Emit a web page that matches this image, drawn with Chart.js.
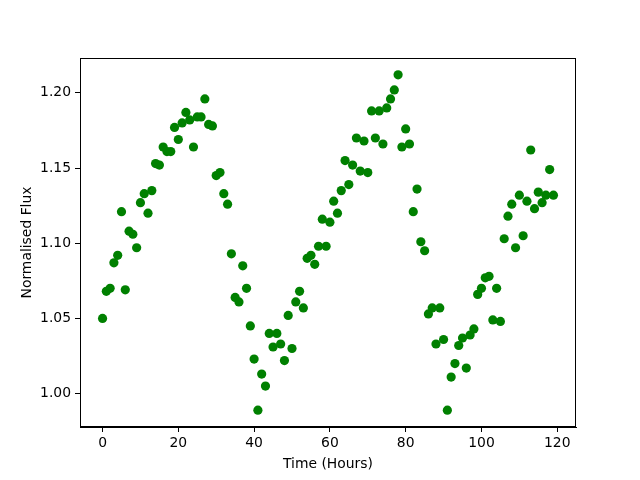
<!DOCTYPE html>
<html>
<head>
<meta charset="utf-8">
<script src="https://cdn.jsdelivr.net/npm/chart.js@4/dist/chart.umd.min.js"></script>
<style>
  body { margin: 0; background: #fff; }
  #wrap { width: 640px; height: 480px; }
</style>
</head>
<body>
<div id="wrap"><canvas id="graficoFluxo" width="640" height="480"></canvas></div>
<script>
// tempo em horas (0..119)
var horas = [];
for (var i = 0; i < 120; i++) horas.push(i);

var fluxo = [
  1.050, 1.068, 1.070, 1.087, 1.092, 1.121, 1.069, 1.108, 1.106, 1.097,
  1.127, 1.133, 1.120, 1.135, 1.153, 1.152, 1.164, 1.161, 1.161, 1.177,
  1.169, 1.180, 1.187, 1.182, 1.164, 1.184, 1.184, 1.196, 1.179, 1.178,
  1.145, 1.147, 1.133, 1.126, 1.093, 1.064, 1.061, 1.085, 1.070, 1.045,
  1.023, 0.989, 1.013, 1.005, 1.040, 1.031, 1.040, 1.033, 1.022, 1.052,
  1.030, 1.061, 1.068, 1.057, 1.090, 1.092, 1.086, 1.098, 1.116, 1.098,
  1.114, 1.128, 1.120, 1.135, 1.155, 1.139, 1.152, 1.170, 1.148, 1.168,
  1.147, 1.188, 1.170, 1.188, 1.166, 1.190, 1.196, 1.202, 1.212, 1.164,
  1.176, 1.166, 1.121, 1.136, 1.101, 1.095, 1.053, 1.057, 1.033, 1.057,
  1.036, 0.989, 1.011, 1.020, 1.032, 1.037, 1.017, 1.039, 1.043, 1.066,
  1.070, 1.077, 1.078, 1.049, 1.070, 1.048, 1.103, 1.118, 1.126, 1.097,
  1.132, 1.105, 1.128, 1.162, 1.123, 1.134, 1.127, 1.132, 1.149, 1.132
];

var ticksX = [0, 20, 40, 60, 80, 100, 120];
var ticksY = [1.00, 1.05, 1.10, 1.15, 1.20];

function pegarPontos() {
  return horas.map(function (h, i) {
    return { x: h, y: fluxo[i] };
  });
}

// moldura do eixo (como no matplotlib)
var moldura = {
  id: "moldura",
  afterDraw: function (chart) {
    var a = chart.chartArea;
    var ctx = chart.ctx;
    ctx.save();
    ctx.strokeStyle = "#000";
    ctx.lineWidth = 1;
    ctx.strokeRect(a.left + 0.5, a.top + 0.5, a.right - a.left - 1, a.bottom - a.top - 1);
    ctx.restore();
  },
};

Chart.defaults.font.family = "'DejaVu Sans', sans-serif";
Chart.defaults.font.size = 13.9;
Chart.defaults.color = "#000";

var el = document.getElementById("graficoFluxo");
new Chart(el, {
  type: "scatter",
  data: {
    datasets: [
      {
        data: pegarPontos(),
        backgroundColor: "#008000",
        borderWidth: 0,
        pointRadius: 4.6,
        pointHoverRadius: 4.6,
      },
    ],
  },
  plugins: [moldura],
  options: {
    responsive: false,
    animation: false,
    events: [],
    layout: { padding: { left: 0, right: 64, top: 58, bottom: 0 } },
    plugins: { legend: { display: false }, tooltip: { enabled: false } },
    scales: {
      x: {
        min: -5.95,
        max: 124.95,
        afterBuildTicks: function (s) {
          s.ticks = ticksX.map(function (v) { return { value: v }; });
        },
        afterFit: function (s) { s.height = 53; },
        grid: { drawOnChartArea: false, color: "#000", tickLength: 5 },
        border: { color: "#000" },
        ticks: { padding: 3, maxRotation: 0 },
        title: { display: true, text: "Time (Hours)", padding: { top: 2, bottom: 7 } },
      },
      y: {
        min: 0.9778,
        max: 1.2232,
        afterBuildTicks: function (s) {
          s.ticks = ticksY.map(function (v) { return { value: v }; });
        },
        afterFit: function (s) { s.width = 80; },
        grid: { drawOnChartArea: false, color: "#000", tickLength: 5 },
        border: { color: "#000" },
        ticks: {
          padding: 4,
          callback: function (v) { return Number(v).toFixed(2); },
        },
        title: { display: true, text: "Normalised Flux", padding: { top: 19, bottom: 0 } },
      },
    },
  },
});
</script>
</body>
</html>
